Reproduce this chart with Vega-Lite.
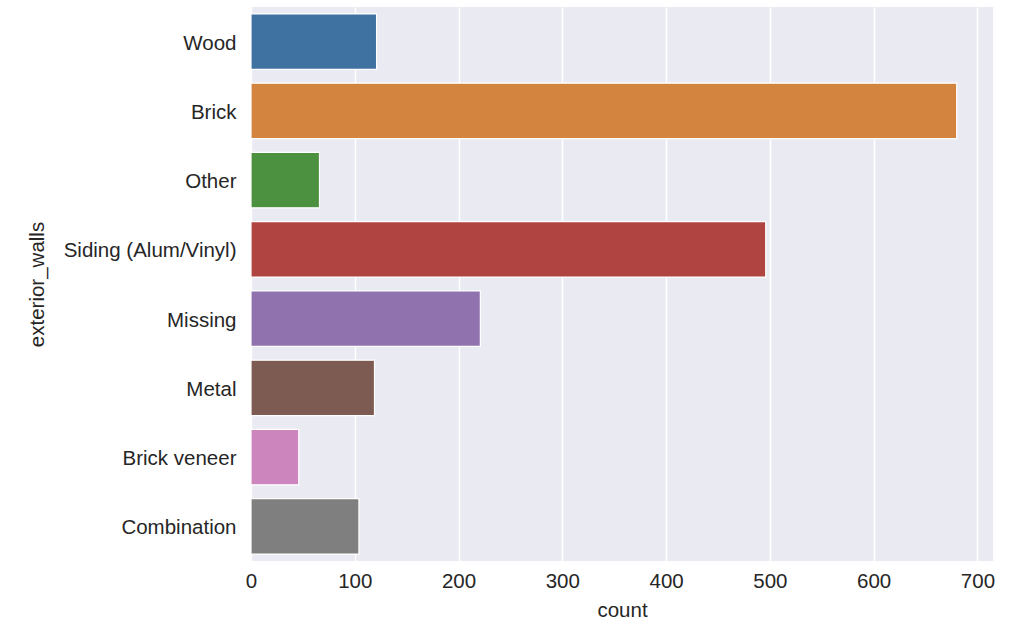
{
  "$schema": "https://vega.github.io/schema/vega-lite/v6.json",
  "width": 742,
  "height": 554,
  "autosize": "none",
  "padding": {"left": 251, "top": 7, "right": 39, "bottom": 69},
  "background": "white",
  "config": {
    "view": {"fill": "#eaeaf2", "stroke": null},
    "font": "Liberation Sans",
    "axis": {
      "labelFont": "Liberation Sans",
      "titleFont": "Liberation Sans",
      "labelFontSize": 20.5,
      "titleFontSize": 20.5,
      "labelColor": "#262626",
      "titleColor": "#262626",
      "titleFontWeight": "normal",
      "domain": false,
      "ticks": false,
      "gridColor": "white",
      "gridWidth": 1.5,
      "gridOpacity": 1
    }
  },
  "data": {
    "values": [
      {"exterior_walls": "Wood", "count": 121},
      {"exterior_walls": "Brick", "count": 680},
      {"exterior_walls": "Other", "count": 66},
      {"exterior_walls": "Siding (Alum/Vinyl)", "count": 496},
      {"exterior_walls": "Missing", "count": 221},
      {"exterior_walls": "Metal", "count": 119},
      {"exterior_walls": "Brick veneer", "count": 46},
      {"exterior_walls": "Combination", "count": 104}
    ]
  },
  "mark": {"type": "bar", "stroke": "white", "strokeWidth": 1.2},
  "encoding": {
    "y": {
      "field": "exterior_walls",
      "type": "nominal",
      "sort": null,
      "scale": {"paddingInner": 0.2, "paddingOuter": 0.1},
      "axis": {"grid": false, "labelPadding": 15, "labelOffset": 2, "titlePadding": 16, "title": "exterior_walls"}
    },
    "x": {
      "field": "count",
      "type": "quantitative",
      "scale": {"domain": [0, 715], "nice": false, "zero": true},
      "axis": {"values": [0, 100, 200, 300, 400, 500, 600, 700], "labelPadding": 10, "titlePadding": 9, "title": "count", "labelFlush": false}
    },
    "color": {
      "field": "exterior_walls",
      "type": "nominal",
      "sort": null,
      "legend": null,
      "scale": {
        "domain": ["Wood", "Brick", "Other", "Siding (Alum/Vinyl)", "Missing", "Metal", "Brick veneer", "Combination"],
        "range": ["#3f72a0", "#d3843f", "#4c9140", "#b04441", "#8f72ae", "#7e5b52", "#cd85bd", "#7f7f7f"]
      }
    }
  }
}
